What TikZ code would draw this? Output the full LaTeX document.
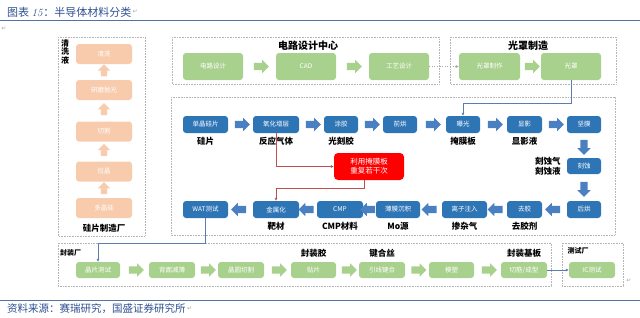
\documentclass[tikz,border=0pt]{standalone}
\usepackage{fontspec}
\newfontfamily\cjk{Noto Sans CJK SC}
\newfontfamily\symfont{DejaVu Sans}
\usetikzlibrary{arrows.meta,positioning,shapes.arrows}
\definecolor{boxgreen}{HTML}{A9D18E}
\definecolor{boxorange}{HTML}{F8CBAD}
\definecolor{boxblue}{HTML}{2E75B6}
\definecolor{arrblue}{HTML}{4A7FC1}
\definecolor{linkblue}{HTML}{5B7DB1}
\definecolor{linkred}{HTML}{C0504D}
\definecolor{headblue}{HTML}{2F4F8F}
\definecolor{rulecol}{HTML}{5473A0}
\definecolor{framegray}{HTML}{B4B4B4}

\begin{document}
\begin{tikzpicture}[x=1pt, y=-1pt,
    node distance=4pt,
    frame/.style={draw=framegray, densely dotted, line width=0.6pt},
    box/.style={rounded corners=3pt, text=white, inner sep=0pt, align=center},
    gbox/.style={box, fill=boxgreen, font=\cjk\fontsize{6.5}{7}\selectfont, minimum height=27pt},
    pbox/.style={box, fill=boxgreen, font=\cjk\fontsize{6.5}{7}\selectfont, minimum height=16pt, minimum width=45pt},
    obox/.style={box, fill=boxorange, font=\cjk\fontsize{6.5}{7}\selectfont, minimum height=20pt, minimum width=56pt},
    bbox/.style={box, fill=boxblue, font=\cjk\fontsize{6.5}{7}\selectfont, minimum height=17pt},
    rbox/.style={box, fill=red, rounded corners=4pt, font=\cjk\fontsize{7.5}{9}\selectfont, minimum width=70pt, minimum height=27pt},
    lbl/.style={inner sep=0pt, align=center, font=\cjk\bfseries\fontsize{8.5}{10}\selectfont},
    ttl/.style={inner sep=0pt, font=\cjk\bfseries\fontsize{10}{12}\selectfont},
    small ttl/.style={inner sep=0pt, font=\cjk\bfseries\fontsize{7}{8}\selectfont},
    fat/.style={single arrow, draw=none, inner sep=3.5pt, minimum height=15pt, single arrow head extend=3pt},
    fatG/.style={fat, fill=boxgreen},
    fatB/.style={fat, fill=arrblue},
    fatO/.style={fat, fill=boxorange, inner sep=3pt, minimum height=12pt, rotate=90},
    link/.style={-{Latex[length=3pt,width=3pt]}, line width=0.6pt},
    bluelink/.style={link, draw=linkblue},
    redlink/.style={link, draw=linkred},
    ret/.style={inner sep=0pt, text=gray!70, font=\symfont\fontsize{6}{7}\selectfont}
]
\useasboundingbox (0,0) rectangle (640,317);

% header and footer
\node[anchor=west, inner sep=0pt, text=headblue, font=\cjk\fontsize{11}{13}\selectfont] (head) at (7,12) {图表\ \textit{\rmfamily 15}：半导体材料分类};
\node[ret, right=1pt of head] (r1) {↵};
\draw[rulecol, line width=0.8pt] (0,20.5) -- (640,20.5);
\node[ret] (r2) at (4,29) {↵};
\draw[rulecol, line width=0.8pt] (0,300.5) -- (640,300.5);
\node[anchor=west, inner sep=0pt, text=headblue, font=\cjk\fontsize{10.5}{12}\selectfont] (foot) at (7,308.5) {资料来源：赛瑞研究，国盛证券研究所};
\node[ret, right=1pt of foot] (r3) {↵};
\node[ret] (r4) at (629,281) {↵};

% frames
\draw[frame] (58,37) rectangle (145,236);
\draw[frame] (172,37) rectangle (439,84);
\draw[frame] (450,37) rectangle (616,84);
\draw[frame] (171,97) rectangle (615,235);
\draw[frame] (58,243) rectangle (551,286);
\draw[frame] (562,243) rectangle (623,286);

% wafer plant
\node[obox] (qx) at (104,54) {清洗};
\node[obox] (ympg) at (104,90) {研磨抛光};
\node[obox] (qg) at (104,131.5) {切割};
\node[obox] (lj) at (104,171.5) {拉晶};
\node[obox] (djg) at (104,208) {多晶硅};
\path (djg.north) -- node[fatO] (ou1) {} (lj.south);
\path (lj.north) -- node[fatO] (ou2) {} (qg.south);
\path (qg.north) -- node[fatO] (ou3) {} (ympg.south);
\path (ympg.north) -- node[fatO] (ou4) {} (qx.south);
\node[lbl, font=\cjk\bfseries\fontsize{8}{8.5}\selectfont] (qxy) at (65,51.5) {清\\洗\\液};
\node[lbl] (gpzzc) at (104,228) {硅片制造厂};

% circuit design and photomask
\node[ttl] (dlsj) at (308,46) {电路设计中心};
\node[gbox, minimum width=60pt] (dl) at (213,66.5) {电路设计};
\node[gbox, minimum width=60pt] (cad) at (306,66.5) {CAD};
\node[gbox, minimum width=60pt] (gy) at (399,66.5) {工艺设计};
\path (dl.east) -- node[fatG] (ga1) {} (cad.west);
\path (cad.east) -- node[fatG] (ga2) {} (gy.west);
\node[ttl] (gzzz) at (528,46) {光罩制造};
\node[gbox, minimum width=61pt] (gzzp) at (489.5,66.5) {光罩制作};
\node[gbox, minimum width=60pt] (gz) at (571,66.5) {光罩};
\path (gzzp.east) -- node[fatG] (ga3) {} (gz.west);
\draw[link, draw=gray!70, dotted] (gy) -- (gzzp);

% wafer fab, upper row
\node[bbox, minimum width=45pt] (djgp) at (205.5,124.5) {单晶硅片};
\node[bbox, minimum width=46pt] (yhzc) at (276,124.5) {氧化增层};
\node[bbox, minimum width=34pt] (tj) at (341,124.5) {涂胶};
\node[bbox, minimum width=34pt] (qh) at (400,124.5) {前烘};
\node[bbox, minimum width=34pt] (bg) at (463,124.5) {曝光};
\node[bbox, minimum width=35pt] (xy) at (524.5,124.5) {显影};
\node[bbox, minimum width=34pt] (jm) at (584,124.5) {坚膜};
\foreach \a/\b [count=\i] in {djgp/yhzc, yhzc/tj, tj/qh, qh/bg, bg/xy, xy/jm}
  \path (\a.east) -- node[fatB] (ba\i) {} (\b.west);
\node[lbl, below=of djgp] (l1) {硅片};
\node[lbl, below=of yhzc] (l2) {反应气体};
\node[lbl, below=of tj] (l3) {光刻胶};
\node[lbl, below=of bg] (l4) {掩膜板};
\node[lbl, below=of xy] (l5) {显影液};

% right column
\node[bbox, minimum width=34pt, minimum height=16pt] (ks) at (584,166) {刻蚀};
\node[bbox, minimum width=34pt] (hh) at (584,209.5) {后烘};
\path (jm.south) -- node[fatB, rotate=-90] (bd1) {} (ks.north);
\path (ks.south) -- node[fatB, rotate=-90] (bd2) {} (hh.north);
\node[lbl, left=6pt of ks] (l6) {刻蚀气\\刻蚀液};

% wafer fab, lower row
\node[bbox, minimum width=35pt] (qj) at (524.5,209.5) {去胶};
\node[bbox, minimum width=45pt] (lzzr) at (464.5,209.5) {离子注入};
\node[bbox, minimum width=44pt] (bmcj) at (398,209.5) {薄膜沉积};
\node[bbox, minimum width=46pt] (cmp) at (340,209.5) {CMP};
\node[bbox, minimum width=46pt] (jsh) at (276,209.5) {金属化};
\node[bbox, minimum width=45pt] (wat) at (205.5,209.5) {WAT测试};
\foreach \a/\b [count=\i] in {hh/qj, qj/lzzr, lzzr/bmcj, bmcj/cmp, cmp/jsh, jsh/wat}
  \path (\a.west) -- node[fatB, rotate=180] (bl\i) {} (\b.east);
\node[lbl, below=of jsh] (l7) {靶材};
\node[lbl, below=of cmp] (l8) {CMP材料};
\node[lbl, below=of bmcj] (l9) {Mo源};
\node[lbl, below=of lzzr] (l10) {掺杂气};
\node[lbl, below=of qj] (l11) {去胶剂};

% repeated lithography
\node[rbox] (cf) at (369,166.5) {利用掩膜板\\重复若干次};
\draw[redlink] (yhzc.south) |- (cf.west);
\draw[redlink] ([xshift=-5pt]cf.south) -- ++(0,8) -| (jsh.north);
\draw[bluelink] (gz.south) -- ++(0,23) -| (bg.north);

% packaging and test
\node[small ttl, anchor=west] (fzc) at (60,253) {封装厂};
\node[small ttl] (csc) at (578,251) {测试厂};
\node[pbox, minimum width=44pt] (jpcs) at (98,270) {晶片测试};
\node[pbox, minimum width=46pt] (bmjb) at (172,270) {背面减薄};
\node[pbox, minimum width=46pt] (jyqg) at (241,270) {晶圆切割};
\node[pbox] (tp) at (313.5,270) {贴片};
\node[pbox, minimum width=46pt] (yxjh) at (382,270) {引线键合};
\node[pbox] (ms) at (451.5,270) {模塑};
\node[pbox, minimum width=46pt] (qjcx) at (524,270) {切筋/成型};
\node[pbox, minimum width=46pt] (ic) at (592,270) {IC测试};
\foreach \a/\b [count=\i] in {jpcs/bmjb, bmjb/jyqg, jyqg/tp, tp/yxjh, yxjh/ms, ms/qjcx}
  \path (\a.east) -- node[fatG] (pa\i) {} (\b.west);
\node[lbl, above=of tp] (l12) {封装胶};
\node[lbl, above=of yxjh] (l13) {键合丝};
\node[lbl, above=of qjcx] (l14) {封装基板};
\draw[bluelink] (wat.south) -- ++(0,25) -| (jpcs.north);
\draw[bluelink] (qjcx) -- (ic);
\end{tikzpicture}
\end{document}
